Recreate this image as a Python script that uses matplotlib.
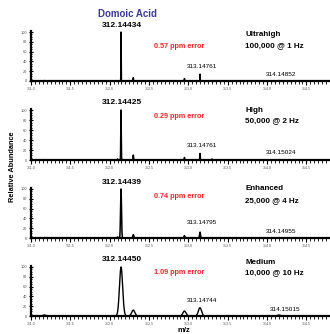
import numpy as np
import matplotlib
matplotlib.use("Agg")
import matplotlib.pyplot as plt
from matplotlib.ticker import MultipleLocator

plt.rcParams['font.family'] = ['Liberation Sans', 'DejaVu Sans']

# ---- data ----
modes = ["Ultrahigh", "High", "Enhanced", "Medium"]
settings = ["100,000 @ 1 Hz", "50,000 @ 2 Hz", "25,000 @ 4 Hz", "10,000 @ 10 Hz"]
errors = ["0.57 ppm error", "0.29 ppm error", "0.74 ppm error", "1.09 ppm error"]
main_mz = [312.14434, 312.14425, 312.14439, 312.14450]
iso1_mz = [313.14761, 313.14761, 313.14795, 313.14744]
iso2_mz = [314.14852, 314.15024, 314.14955, 314.15015]
peak_width = [0.0015, 0.003, 0.006, 0.02]   # sigma of peak shape
# other peaks: (m/z, intensity)
peaks_ultra = [(311.17, 1), (312.144, 100), (312.30, 7), (312.95, 5), (313.148, 14), (314.149, 1)]
peaks_high = [(311.17, 1), (312.10, 2), (312.144, 100), (312.30, 10), (312.95, 5), (313.148, 13), (313.30, 2), (314.150, 1)]
peaks_enh = [(311.17, 1), (312.10, 2), (312.144, 100), (312.30, 7), (312.95, 5), (313.148, 12), (314.150, 1)]
peaks_med = [(311.17, 2), (312.1445, 100), (312.30, 12), (312.95, 10), (313.147, 17), (314.150, 2)]
all_peaks = [peaks_ultra, peaks_high, peaks_enh, peaks_med]
xticks = [311.0, 311.5, 312.0, 312.5, 313.0, 313.5, 314.0, 314.5]

# text y positions (data units)
err_y = [71, 88, 84, 88]
mode_y = [94, 100, 100, 110]
set_y = [73, 78, 76, 88]
main_lbl_y = [114, 116, 114, 116]
iso1_lbl_y = [29, 29, 31, 31]
iso2_lbl_y = [14, 16, 14, 14]

W, H = 330, 334
fig = plt.figure(figsize=(W / 100, H / 100), dpi=100)
zero_px = [81, 160, 238, 316]
top_px = [32, 110, 189, 267]
left_px = 31

for i in range(4):
    ylim_top = 102
    h = (zero_px[i] - top_px[i]) * ylim_top / 100
    ax = fig.add_axes([left_px / W, 1 - zero_px[i] / H, (W - left_px) / W, h / H])
    x = np.linspace(311.0, 314.8, 8000)
    y = np.zeros_like(x)
    for mz, inten in all_peaks[i]:
        y = np.maximum(y, inten * np.exp(-0.5 * ((x - mz) / peak_width[i]) ** 2))
    ax.plot(x, y, color='black', lw=1.1 if i < 3 else 1.0)
    ax.set_xlim(311.0, 314.8)
    ax.set_ylim(0, ylim_top)
    for s in ['top', 'right']:
        ax.spines[s].set_visible(False)
    ax.spines['left'].set_linewidth(1.6)
    ax.spines['bottom'].set_linewidth(1.6)
    ax.set_xticks(xticks)
    ax.set_xticklabels([f"{v:.1f}" for v in xticks])
    ax.xaxis.set_minor_locator(MultipleLocator(0.05))
    ax.set_yticks([0, 20, 40, 60, 80, 100])
    ax.yaxis.set_minor_locator(MultipleLocator(5))
    ax.tick_params(axis='x', which='major', labelsize=2.6, length=3, width=0.8, pad=1.5, labelcolor='#555555', direction='out')
    ax.tick_params(axis='x', which='minor', length=1.8, width=0.6, direction='out')
    ax.tick_params(axis='y', which='major', labelsize=2.8, length=3, width=0.8, pad=1.5, labelcolor='#555555', direction='inout')
    ax.tick_params(axis='y', which='minor', length=2, width=0.6, direction='inout')
    ax.patch.set_visible(False)

    ax.text(main_mz[i] + 0.005, main_lbl_y[i], f"{main_mz[i]:.5f}", fontsize=6, fontweight='bold',
            ha='center', va='center', clip_on=False)
    ax.text(312.56, err_y[i], errors[i], fontsize=5.2, fontweight='bold', color='#ff2020',
            ha='left', va='center')
    ax.text(313.725, mode_y[i], modes[i], fontsize=5.8, fontweight='bold', ha='left', va='center', clip_on=False)
    ax.text(313.725, set_y[i], settings[i], fontsize=5.8, fontweight='bold', ha='left', va='center')
    ax.text(iso1_mz[i] + 0.02, iso1_lbl_y[i], f"{iso1_mz[i]:.5f}", fontsize=4.6, ha='center', va='center')
    ax.text(314.175 + (0.05 if i == 3 else 0), iso2_lbl_y[i], f"{iso2_mz[i]:.5f}", fontsize=4.6, ha='center', va='center')

fig.text(127 / W, 1 - 14 / H, "Domoic Acid", fontsize=7, fontweight='bold', color='#3a3aa0', ha='center', va='center')
fig.text(13 / W, 1 - 167 / H, "Relative Abundance", fontsize=5.3, fontweight='bold', rotation=90, ha='center', va='center')
fig.text(184 / W, 1 - 330 / H, "m/z", fontsize=5.5, fontweight='bold', ha='center', va='center')

fig.savefig("out.png", dpi=100)
